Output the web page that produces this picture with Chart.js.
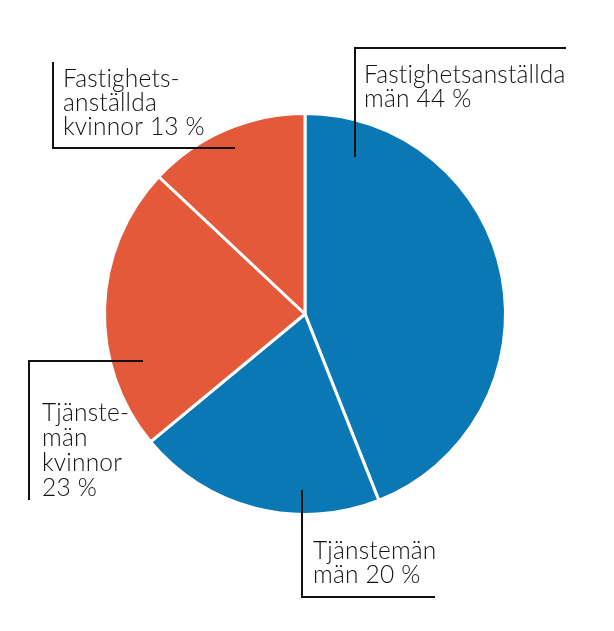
<!DOCTYPE html>
<html>
<head>
    <title>Fördelning</title>
    <script src="https://cdn.jsdelivr.net/npm/chart.js"></script>
    <style>
        body { margin: 0; background: #fff; }
        #wrap { width: 614px; height: 631px; }
    </style>
</head>
<body>
    <div id="wrap">
        <canvas id="myChart" width="614" height="631"></canvas>
    </div>

    <script>
        // Data
        var categories = ['Fastighetsanställda män', 'Tjänstemän män', 'Tjänstemän kvinnor', 'Fastighetsanställda kvinnor'];
        var shares = [44, 20, 23, 13];
        var sliceColors = ['#0a78b4', '#0a78b4', '#e3593a', '#e3593a'];
        var labelLines = [
            ['Fastighetsanställda', 'män 44 %'],
            ['Tjänstemän', 'män 20 %'],
            ['Tjänste-', 'män', 'kvinnor', '23 %'],
            ['Fastighets-', 'anställda', 'kvinnor 13 %']
        ];

        // Leader lines: points of the bracket line, and where the text starts
        var callouts = [
            { path: [[566, 48], [355, 48], [355, 157]], textX: 364, textY: 83, lineH: 24 },
            { path: [[302, 490], [302, 597], [435, 597]], textX: 313, textY: 559, lineH: 24 },
            { path: [[143, 361], [29, 361], [29, 500]], textX: 42, textY: 421, lineH: 25 },
            { path: [[53, 62], [53, 148], [235, 148]], textX: 63, textY: 87, lineH: 24 }
        ];

        var calloutPlugin = {
            id: 'callouts',
            afterDraw: function (chart) {
                var ctx = chart.ctx;
                ctx.save();
                ctx.strokeStyle = '#111';
                ctx.lineWidth = 2;
                ctx.fillStyle = '#111';
                ctx.font = '300 24.5px Lato, "Noto Sans", sans-serif';
                ctx.letterSpacing = '0.2px'; // also keeps the "ti" ligature away
                ctx.textBaseline = 'alphabetic';
                callouts.forEach(function (c, i) {
                    ctx.beginPath();
                    c.path.forEach(function (p, j) {
                        if (j === 0) ctx.moveTo(p[0], p[1]);
                        else ctx.lineTo(p[0], p[1]);
                    });
                    ctx.stroke();
                    labelLines[i].forEach(function (t, k) {
                        ctx.fillText(t, c.textX, c.textY + k * c.lineH);
                    });
                });
                ctx.restore();
            }
        };

        var ctx = document.getElementById('myChart').getContext('2d');
        var myChart = new Chart(ctx, {
            type: 'pie',
            data: {
                labels: categories,
                datasets: [{
                    data: shares,
                    backgroundColor: sliceColors,
                    borderColor: '#ffffff',
                    borderWidth: 3
                }]
            },
            options: {
                responsive: false,
                animation: false,
                layout: {
                    padding: { left: 103, right: 107, top: 112, bottom: 115 }
                },
                plugins: {
                    legend: { display: false },
                    tooltip: { enabled: false }
                }
            },
            plugins: [calloutPlugin]
        });
    </script>
</body>
</html>
